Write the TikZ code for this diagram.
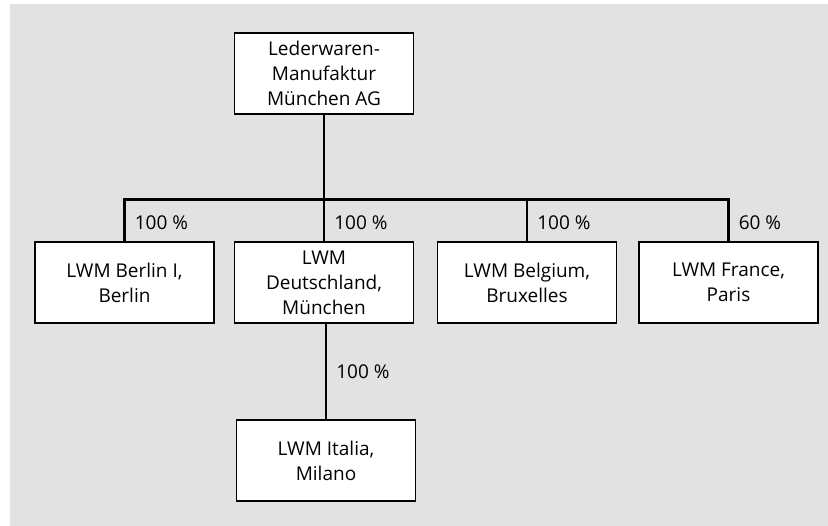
\documentclass[tikz,border=0pt]{standalone}
\usepackage{fontspec}
\setmainfont{Open Sans}
\usepackage{xcolor}
\usepackage{tikz}
\usetikzlibrary{positioning, calc}
\definecolor{bggray}{HTML}{E2E2E2}

\begin{document}
\begin{tikzpicture}[x=1pt, y=-1pt,
    font=\fontsize{19}{25}\selectfont,
    firm/.style={draw=black, line width=1.2pt, fill=white,
      minimum width=179pt, minimum height=81pt,
      align=center, inner sep=2pt},
    link/.style={line width=2.6pt, black},
    share/.style={right, inner sep=0pt, xshift=9pt}]

  % --- Hintergrund ---
  \useasboundingbox (0,0) rectangle (828,526);
  \fill[bggray] (10,4) rectangle (828,526);

  % --- Muttergesellschaft ---
  \node[firm] (lmm) at (324,73.5)
    {Lederwaren-\\Manufaktur\\München AG};

  % --- Tochtergesellschaften ---
  \node[firm] (berlin) at (124.5,282.5) {LWM Berlin I,\\Berlin};
  \node[firm] (deutschland) at (324,282.5)
    {LWM\\Deutschland,\\München};
  \node[firm] (belgium) at (527,282.5) {LWM Belgium,\\Bruxelles};
  \node[firm] (france) at (728.5,282.5) {LWM France,\\Paris};

  % --- Enkelgesellschaft ---
  \node[firm] (italia) at (326,460.5) {LWM Italia,\\Milano};

  % --- Beteiligungslinien ---
  \draw[link] (lmm.south) -- ++(0,85) coordinate (hub);
  \draw[link] (hub) -| node[share, pos=0.78] {100 \%} (berlin.north);
  \draw[link] (hub) -| node[share, pos=0.78] {100 \%} (deutschland.north);
  \draw[link] (hub) -| node[share, pos=0.78] {100 \%} (belgium.north);
  \draw[link] (hub) -| node[share, pos=0.78] {60 \%} (france.north);
  \draw[link] (deutschland.south -| italia.north) -- node[share] {100 \%}
    (italia.north);

\end{tikzpicture}
\end{document}
